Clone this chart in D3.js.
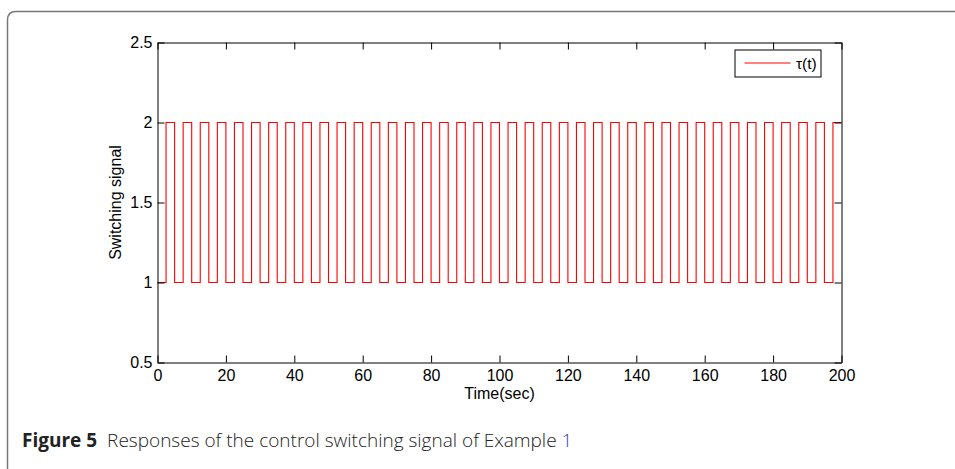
<!DOCTYPE html>
<html>
<head>
  <meta charset="utf-8">
  <style>
    body { margin: 0; background: #fff; }
    svg { display: block; }
  </style>
  <title>Switching signal</title>
</head>
<body>
  <script src="https://cdn.jsdelivr.net/npm/d3@7/dist/d3.min.js"></script>
  <script>
    // switching instants (sec) and the level held from each instant to the next
    var stepTimes = [0, 2.5, 5, 7.5, 10, 12.5, 15, 17.5, 20, 22.5, 25, 27.5, 30, 32.5, 35, 37.5,
      40, 42.5, 45, 47.5, 50, 52.5, 55, 57.5, 60, 62.5, 65, 67.5, 70, 72.5, 75, 77.5,
      80, 82.5, 85, 87.5, 90, 92.5, 95, 97.5, 100, 102.5, 105, 107.5, 110, 112.5, 115, 117.5,
      120, 122.5, 125, 127.5, 130, 132.5, 135, 137.5, 140, 142.5, 145, 147.5, 150, 152.5, 155, 157.5,
      160, 162.5, 165, 167.5, 170, 172.5, 175, 177.5, 180, 182.5, 185, 187.5, 190, 192.5, 195, 197.5, 200];
    var stepLevels = [1, 2, 1, 2, 1, 2, 1, 2, 1, 2, 1, 2, 1, 2, 1, 2,
      1, 2, 1, 2, 1, 2, 1, 2, 1, 2, 1, 2, 1, 2, 1, 2,
      1, 2, 1, 2, 1, 2, 1, 2, 1, 2, 1, 2, 1, 2, 1, 2,
      1, 2, 1, 2, 1, 2, 1, 2, 1, 2, 1, 2, 1, 2, 1, 2,
      1, 2, 1, 2, 1, 2, 1, 2, 1, 2, 1, 2, 1, 2, 1, 2, 2];

    var xTicks = [0, 20, 40, 60, 80, 100, 120, 140, 160, 180, 200];
    var yTicks = [0.5, 1, 1.5, 2, 2.5];
    var seriesName = "\u03c4(t)";

    var font = "'Liberation Sans', Arial, sans-serif";
    var width = 955, height = 469;
    var margin = {top: 42.5, right: 113.5, bottom: 106.5, left: 157.5};
    var plotW = width - margin.left - margin.right,
        plotH = height - margin.top - margin.bottom;

    var svg = d3.select("body").append("svg")
        .attr("width", width)
        .attr("height", height);

    // figure frame (rounded corner, runs off the page)
    svg.append("path")
      .attr("d", "M7.5,475 L7.5,20 Q7.5,11.5 16,11.5 L960,11.5")
      .attr("fill", "none")
      .attr("stroke", "#777")
      .attr("stroke-width", 1.5);

    var x = d3.scaleLinear().domain([0, 200]).range([0, plotW]);
    var y = d3.scaleLinear().domain([0.5, 2.5]).range([plotH, 0]);

    var g = svg.append("g")
        .attr("transform", "translate(" + margin.left + "," + margin.top + ")");

    // signal
    var pts = stepTimes.map(function (t, i) { return [t, stepLevels[i]]; });
    g.append("path")
      .datum(pts)
      .attr("fill", "none")
      .attr("stroke", "#ff0000")
      .attr("stroke-width", 1.1)
      .attr("d", d3.line()
        .x(function (d) { return x(d[0]); })
        .y(function (d) { return y(d[1]); })
        .curve(d3.curveStepAfter));

    // axes, MATLAB style with inward ticks on all four sides
    g.append("g")
      .attr("transform", "translate(0," + plotH + ")")
      .call(d3.axisBottom(x).tickValues(xTicks).tickSizeInner(-7).tickSizeOuter(0).tickPadding(7));
    g.append("g")
      .call(d3.axisLeft(y).tickValues(yTicks).tickFormat(d3.format("")).tickSizeInner(-7).tickSizeOuter(0).tickPadding(5));
    g.append("g")
      .call(d3.axisTop(x).tickValues(xTicks).tickSizeInner(-7).tickSizeOuter(0).tickFormat(""));
    g.append("g")
      .attr("transform", "translate(" + plotW + ",0)")
      .call(d3.axisRight(y).tickValues(yTicks).tickSizeInner(-7).tickSizeOuter(0).tickFormat(""));

    g.selectAll(".domain").attr("stroke", "#000");
    g.selectAll(".tick line").attr("stroke", "#000");
    g.selectAll(".tick text")
      .attr("font-family", font)
      .attr("font-size", 16)
      .attr("fill", "#000");

    // legend
    var leg = g.append("g").attr("transform", "translate(" + (plotW - 106.5) + ",7.5)");
    leg.append("rect")
      .attr("width", 86).attr("height", 27)
      .attr("fill", "#fff").attr("stroke", "#000");
    leg.append("line")
      .attr("x1", 9.5).attr("x2", 55.5).attr("y1", 13).attr("y2", 13)
      .attr("stroke", "#ff0000").attr("stroke-width", 1);
    leg.append("text")
      .attr("x", 61).attr("y", 19)
      .attr("font-family", font)
      .attr("font-size", 15.5)
      .text(seriesName);

    // axis labels
    svg.append("text")
      .attr("x", margin.left + plotW / 2)
      .attr("y", 399)
      .attr("text-anchor", "middle")
      .attr("font-family", font)
      .attr("font-size", 16)
      .text("Time(sec)");

    svg.append("text")
      .attr("transform", "translate(121," + (margin.top + plotH / 2) + ") rotate(-90)")
      .attr("text-anchor", "middle")
      .attr("font-family", font)
      .attr("font-size", 16)
      .text("Switching signal");

    // caption
    var cap = svg.append("text")
      .attr("x", 22)
      .attr("y", 447)
      .attr("font-family", "'Open Sans', sans-serif")
      .attr("font-size", 19)
      .attr("fill", "#222");
    cap.append("tspan").attr("font-weight", "bold").text("Figure 5");
    cap.append("tspan").attr("dx", 10).attr("font-weight", 300).text("Responses of the control switching signal of Example ");
    cap.append("tspan").attr("fill", "#3a3ac8").attr("font-weight", 300).text("1");
  </script>
</body>
</html>
